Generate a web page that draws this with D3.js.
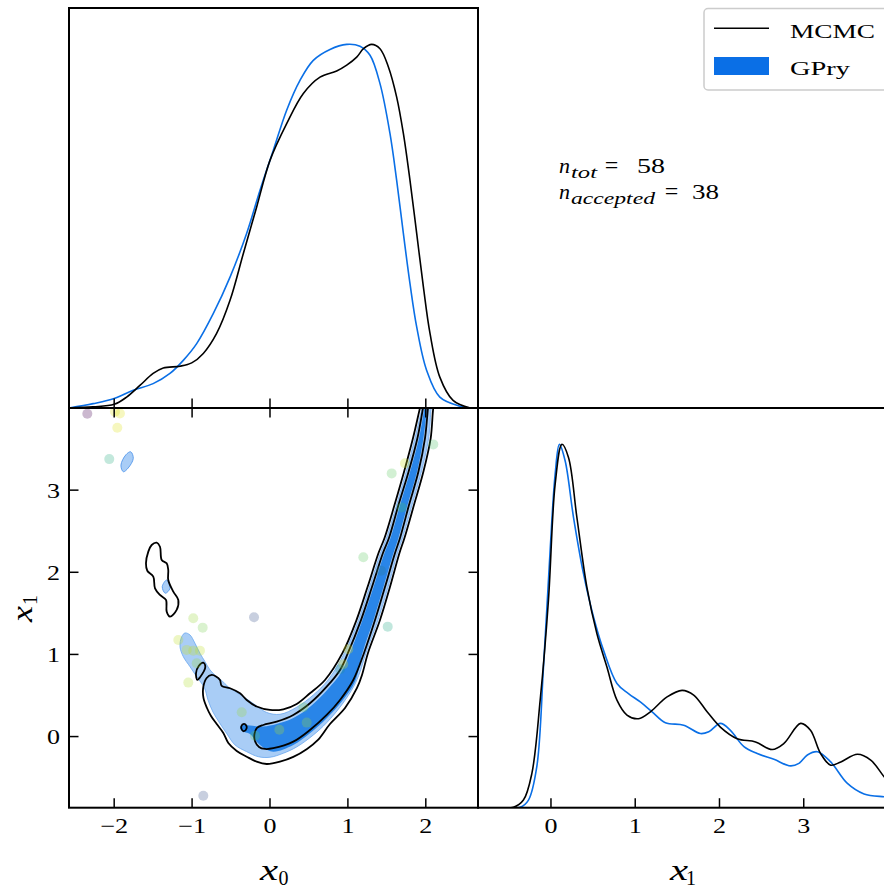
<!DOCTYPE html>
<html><head><meta charset="utf-8">
<script src="https://cdn.jsdelivr.net/npm/d3@7"></script>
<style>html,body{margin:0;padding:0;background:#fff;overflow:hidden}</style>
</head><body><svg id="c" width="884" height="891"></svg>
<script>
// ---------------- DATA ----------------
const x0Ticks = [-2, -1, 0, 1, 2];
const x1Ticks = [0, 1, 2, 3];
const legendLabels = ["MCMC", "GPry"];
const nTot = 58, nAccepted = 38;

// 1D marginal of x0 (normalised to peak 1)
const x0Mcmc = [[-2.58,0],[-2.27,0.003],[-2.0,0.01],[-1.84,0.03],[-1.67,0.062],[-1.5,0.095],[-1.37,0.11],[-1.155,0.115],[-1.005,0.124],[-0.856,0.15],[-0.685,0.205],[-0.513,0.296],[-0.342,0.425],[-0.171,0.553],[0,0.681],[0.214,0.782],[0.428,0.865],[0.642,0.91],[0.856,0.927],[0.985,0.943],[1.113,0.965],[1.2,0.988],[1.305,1.0],[1.412,0.988],[1.52,0.938],[1.626,0.855],[1.712,0.755],[1.797,0.626],[1.883,0.48],[1.969,0.333],[2.054,0.205],[2.18,0.085],[2.35,0.021],[2.57,0.0]];
const x0Gpry = [[-2.58,0],[-2.27,0.012],[-2.0,0.026],[-1.755,0.049],[-1.5,0.067],[-1.284,0.095],[-1.113,0.131],[-0.941,0.177],[-0.727,0.26],[-0.513,0.36],[-0.3,0.48],[-0.128,0.599],[0.043,0.709],[0.214,0.819],[0.385,0.901],[0.556,0.956],[0.77,0.986],[0.985,1.0],[1.155,0.995],[1.284,0.97],[1.412,0.892],[1.54,0.755],[1.626,0.626],[1.712,0.48],[1.797,0.342],[1.883,0.223],[2.01,0.104],[2.18,0.03],[2.44,0.005],[2.57,0]];

// 1D marginal of x1
const x1Mcmc = [[-0.866,0],[-0.447,0.001],[-0.327,0.021],[-0.227,0.094],[-0.128,0.296],[-0.03,0.571],[0.05,0.891],[0.13,1.0],[0.208,0.964],[0.307,0.8],[0.426,0.607],[0.545,0.479],[0.664,0.387],[0.783,0.296],[0.902,0.255],[1.04,0.245],[1.18,0.264],[1.378,0.305],[1.556,0.323],[1.694,0.31],[1.853,0.264],[2.01,0.222],[2.21,0.19],[2.428,0.181],[2.626,0.16],[2.765,0.177],[2.963,0.232],[3.08,0.213],[3.2,0.149],[3.32,0.117],[3.44,0.126],[3.637,0.147],[3.795,0.131],[3.954,0.085],[4.05,0.06]];
const x1Gpry = [[-0.866,0],[-0.366,0.001],[-0.267,0.021],[-0.168,0.113],[-0.089,0.387],[-0.01,0.708],[0.05,0.919],[0.1,1.0],[0.168,0.955],[0.267,0.8],[0.386,0.644],[0.505,0.525],[0.624,0.433],[0.783,0.342],[0.92,0.314],[1.06,0.291],[1.2,0.264],[1.358,0.234],[1.575,0.227],[1.774,0.204],[1.873,0.209],[2.01,0.232],[2.13,0.213],[2.29,0.168],[2.448,0.149],[2.646,0.133],[2.844,0.115],[2.943,0.122],[3.043,0.145],[3.162,0.154],[3.32,0.126],[3.518,0.067],[3.716,0.038],[3.954,0.03],[4.05,0.028]];

// 2D contours [x0, x1]
const mcmcOuter = [[1.951,4.097],[1.925,3.999],[1.836,3.634],[1.720,3.220],[1.598,2.818],[1.470,2.417],[1.393,2.234],[1.252,1.820],[1.110,1.418],[0.931,1.018],[0.706,0.689],[0.513,0.527],[0.343,0.397],[0.171,0.332],[0,0.324],[-0.171,0.366],[-0.299,0.446],[-0.385,0.527],[-0.513,0.588],[-0.620,0.616],[-0.642,0.689],[-0.693,0.732],[-0.748,0.750],[-0.813,0.713],[-0.856,0.604],[-0.854,0.470],[-0.809,0.348],[-0.757,0.251],[-0.684,0.153],[-0.599,0.044],[-0.535,-0.078],[-0.427,-0.175],[-0.299,-0.245],[-0.171,-0.306],[-0.042,-0.334],[0.128,-0.306],[0.299,-0.248],[0.475,-0.151],[0.616,-0.041],[0.770,0.153],[0.963,0.348],[1.117,0.592],[1.181,0.750],[1.258,1.018],[1.412,1.418],[1.540,1.820],[1.662,2.234],[1.726,2.417],[1.848,2.818],[1.968,3.220],[2.063,3.634],[2.096,3.999],[2.118,4.097]];
const mcmcInner = [[1.983,4.097],[1.964,3.999],[1.893,3.634],[1.778,3.220],[1.649,2.818],[1.527,2.417],[1.450,2.234],[1.309,1.820],[1.168,1.418],[1.001,1.018],[0.899,0.811],[0.728,0.607],[0.513,0.405],[0.299,0.263],[0.086,0.181],[-0.086,0.141],[-0.167,0.105],[-0.199,0.032],[-0.193,-0.054],[-0.141,-0.126],[-0.064,-0.151],[0.042,-0.142],[0.299,-0.062],[0.513,0.080],[0.728,0.263],[0.899,0.446],[1.069,0.689],[1.207,1.018],[1.348,1.418],[1.476,1.820],[1.605,2.234],[1.669,2.417],[1.784,2.818],[1.904,3.220],[1.990,3.634],[2.028,3.999],[2.041,4.097]];
const mcmcIsland = [[-1.454,2.360],[-1.412,2.311],[-1.390,2.150],[-1.326,2.109],[-1.306,2.028],[-1.306,1.906],[-1.241,1.764],[-1.177,1.663],[-1.198,1.542],[-1.284,1.460],[-1.326,1.521],[-1.335,1.663],[-1.412,1.724],[-1.476,1.805],[-1.498,1.946],[-1.575,2.019],[-1.592,2.109],[-1.562,2.251],[-1.519,2.332]];
const mcmcLoopA = [[-0.856,0.90],[-0.830,0.85],[-0.900,0.72],[-0.933,0.69],[-0.950,0.77],[-0.915,0.86]];
const mcmcLoopB = [[-0.334,0.155],[-0.305,0.135],[-0.300,0.10],[-0.334,0.065],[-0.362,0.085],[-0.368,0.125]];
const gpryLight = [[1.977,4.097],[1.951,3.999],[1.861,3.634],[1.746,3.220],[1.624,2.818],[1.495,2.417],[1.418,2.234],[1.277,1.820],[1.136,1.418],[0.956,1.018],[0.745,0.689],[0.556,0.506],[0.343,0.357],[0.128,0.271],[-0.042,0.293],[-0.171,0.373],[-0.299,0.458],[-0.427,0.537],[-0.535,0.604],[-0.620,0.683],[-0.684,0.729],[-0.770,0.811],[-0.834,0.912],[-0.899,1.014],[-0.963,1.136],[-1.027,1.237],[-1.091,1.261],[-1.133,1.216],[-1.155,1.094],[-1.113,0.973],[-1.027,0.851],[-0.941,0.729],[-0.841,0.592],[-0.796,0.446],[-0.732,0.299],[-0.655,0.178],[-0.552,0.032],[-0.449,-0.102],[-0.299,-0.184],[-0.150,-0.245],[0,-0.252],[0.171,-0.203],[0.343,-0.126],[0.556,0.019],[0.728,0.169],[0.920,0.385],[1.078,0.616],[1.155,0.786],[1.232,1.018],[1.386,1.418],[1.515,1.820],[1.637,2.234],[1.701,2.417],[1.823,2.818],[1.942,3.220],[2.037,3.634],[2.070,3.999],[2.092,4.097]];
const gpryBlobA = [[-1.788,3.467],[-1.755,3.387],[-1.820,3.270],[-1.883,3.224],[-1.913,3.305],[-1.850,3.430]];
const gpryBlobB = [[-1.326,1.906],[-1.284,1.805],[-1.344,1.745],[-1.383,1.825]];
const gpryDark = [[2.002,4.097],[1.983,3.999],[1.913,3.634],[1.797,3.220],[1.669,2.818],[1.547,2.417],[1.470,2.234],[1.329,1.820],[1.187,1.418],[1.027,1.018],[0.918,0.786],[0.745,0.580],[0.526,0.373],[0.299,0.226],[0.086,0.153],[-0.086,0.123],[-0.257,0.135],[-0.334,0.141],[-0.385,0.117],[-0.359,0.068],[-0.257,0.032],[-0.180,-0.054],[-0.086,-0.133],[0.042,-0.184],[0.299,-0.102],[0.513,0.040],[0.728,0.223],[0.920,0.425],[1.091,0.668],[1.187,1.018],[1.329,1.418],[1.457,1.820],[1.585,2.234],[1.649,2.417],[1.765,2.818],[1.887,3.220],[1.970,3.634],[2.015,3.999],[2.028,4.097]];

// GP training points [x0, x1, colour value]
const trainPts = [[-2.345,3.93,0.0],[-1.99,3.954,0.95],[-1.926,3.934,0.95],[-1.96,3.76,0.95],[-2.063,3.378,0.62],[-0.985,1.44,0.85],[-0.864,1.326,0.8],[-0.205,1.452,0.25],[-1.177,1.176,0.9],[-1.069,1.055,0.92],[-0.985,1.046,0.9],[-0.899,1.046,0.9],[-0.941,0.893,0.85],[-1.049,0.657,0.88],[-0.363,0.297,0.85],[-0.193,0.009,0.75],[0.12,0.082,0.88],[0.471,0.17,0.85],[0.428,0.358,0.8],[0.94,0.88,0.95],[0.90,0.82,0.5],[1.005,1.063,0.95],[1.425,2.02,0.4],[1.198,2.183,0.75],[1.511,1.338,0.6],[1.562,3.204,0.75],[1.733,3.326,0.92],[2.096,3.557,0.72],[1.69,2.79,0.7],[-0.856,-0.721,0.25]];

// ---------------- LAYOUT ----------------
const svg = d3.select('#c');
const L = 69, M = 478, R = 888, T = 8, MID = 408, B = 807.7;
const BLUE = '#0a6fe6', LIGHT = '#a9cdf6', DARK = '#2985e8';
const FONT = "'Liberation Serif', 'DejaVu Serif', serif";

const sx0 = d3.scaleLinear().domain([-2.58, 2.67]).range([L, M]);
const sx1h = d3.scaleLinear().domain([-0.866, 4.0]).range([M, R]);
const sx1v = d3.scaleLinear().domain([-0.866, 4.0]).range([B, MID]);
const sdTop = d3.scaleLinear().domain([0, 1.1]).range([MID, T]);
const sdRight = d3.scaleLinear().domain([0, 1.1]).range([B, MID]);

const defs = svg.append('defs');
function clip(id, x, y, w, h) {
  defs.append('clipPath').attr('id', id).append('rect').attr('x', x).attr('y', y).attr('width', w).attr('height', h);
}
clip('cTop', L, T, M - L, MID - T);
clip('c2d', L, MID, M - L, B - MID);
clip('cRight', M, MID, R - M, B - MID);

// ---- top panel: x0 marginal
const gTop = svg.append('g').attr('clip-path', 'url(#cTop)');
const lineTop = d3.line().x(d => sx0(d[0])).y(d => sdTop(d[1])).curve(d3.curveCatmullRom);
gTop.append('path').attr('d', lineTop(x0Gpry)).attr('fill', 'none').attr('stroke', BLUE).attr('stroke-width', 1.6);
gTop.append('path').attr('d', lineTop(x0Mcmc)).attr('fill', 'none').attr('stroke', '#000').attr('stroke-width', 1.6);

// ---- right panel: x1 marginal
const gRight = svg.append('g').attr('clip-path', 'url(#cRight)');
const lineRight = d3.line().x(d => sx1h(d[0])).y(d => sdRight(d[1])).curve(d3.curveCatmullRom);
gRight.append('path').attr('d', lineRight(x1Gpry)).attr('fill', 'none').attr('stroke', BLUE).attr('stroke-width', 1.6);
gRight.append('path').attr('d', lineRight(x1Mcmc)).attr('fill', 'none').attr('stroke', '#000').attr('stroke-width', 1.6);

// ---- 2D panel
const g2 = svg.append('g').attr('clip-path', 'url(#c2d)');
const closed = d3.line().x(d => sx0(d[0])).y(d => sx1v(d[1])).curve(d3.curveCatmullRomClosed);
g2.append('path').attr('d', closed(gpryLight)).attr('fill', LIGHT).attr('stroke', '#6aa7ef').attr('stroke-width', 0.8);
[gpryBlobA, gpryBlobB].forEach(b => g2.append('path').attr('d', closed(b)).attr('fill', LIGHT).attr('stroke', '#5f9fee').attr('stroke-width', 1));
g2.append('path').attr('d', closed(gpryDark)).attr('fill', DARK);
[mcmcOuter, mcmcInner, mcmcIsland, mcmcLoopA, mcmcLoopB].forEach(c =>
  g2.append('path').attr('d', closed(c)).attr('fill', 'none').attr('stroke', '#000').attr('stroke-width', 1.8).attr('stroke-linejoin', 'round'));
svg.append('g').selectAll('circle').data(trainPts).join('circle')
  .attr('cx', d => sx0(d[0])).attr('cy', d => sx1v(d[1])).attr('r', 5)
  .attr('fill', d => d3.interpolateViridis(d[2])).attr('fill-opacity', 0.28);

// ---------------- AXES / SPINES ----------------
const TL = 9.5;
const ax = svg.append('g').attr('stroke', '#000').attr('stroke-width', 1.5);
x0Ticks.forEach(t => {
  const x = sx0(t);
  ax.append('line').attr('x1', x).attr('x2', x).attr('y1', MID).attr('y2', MID - TL);
  ax.append('line').attr('x1', x).attr('x2', x).attr('y1', MID).attr('y2', MID + TL);
  ax.append('line').attr('x1', x).attr('x2', x).attr('y1', B).attr('y2', B - TL);
});
x1Ticks.forEach(t => {
  const y = sx1v(t);
  ax.append('line').attr('x1', L).attr('x2', L + TL).attr('y1', y).attr('y2', y);
  ax.append('line').attr('x1', M).attr('x2', M - TL).attr('y1', y).attr('y2', y);
  const x = sx1h(t);
  ax.append('line').attr('x1', x).attr('x2', x).attr('y1', B).attr('y2', B - TL);
});
const sp = svg.append('g').attr('stroke', '#000').attr('stroke-width', 2).attr('fill', 'none');
sp.append('rect').attr('x', L).attr('y', T).attr('width', M - L).attr('height', MID - T);
sp.append('rect').attr('x', L).attr('y', MID).attr('width', M - L).attr('height', B - MID);
sp.append('rect').attr('x', M).attr('y', MID).attr('width', R - M).attr('height', B - MID);

function txt(x, y, s, o) {
  const t = svg.append('text').attr('x', x).attr('y', y).text(s)
    .attr('font-family', FONT).attr('font-size', o.size).attr('fill', '#000')
    .attr('text-anchor', o.anchor || 'start');
  if (o.italic) t.attr('font-style', 'italic');
  if (o.len) t.attr('textLength', o.len).attr('lengthAdjust', 'spacingAndGlyphs');
  return t;
}
const fmt = v => (v < 0 ? '\u2212' : '') + Math.abs(v);
x0Ticks.forEach(t => txt(sx0(t), 833, fmt(t), {size: 21, anchor: 'middle', len: t < 0 ? 28 : 13}));
x1Ticks.forEach(t => txt(60, sx1v(t) + 7.5, fmt(t), {size: 21, anchor: 'end', len: 13}));
x1Ticks.forEach(t => txt(sx1h(t), 833, fmt(t), {size: 21, anchor: 'middle', len: 13}));

// axis labels
txt(260, 880, 'x', {size: 29, italic: true, len: 18});
txt(278.5, 885, '0', {size: 20, len: 10});
txt(670, 880, 'x', {size: 29, italic: true, len: 18});
txt(686, 885, '1', {size: 20, len: 10});
const yl = svg.append('g').attr('transform', 'translate(32,622) rotate(-90)');
yl.append('text').attr('x', 0).attr('y', 0).text('x').attr('font-family', FONT).attr('font-style', 'italic')
  .attr('font-size', 29).attr('textLength', 16).attr('lengthAdjust', 'spacingAndGlyphs');
yl.append('text').attr('x', 17).attr('y', 5).text('1').attr('font-family', FONT)
  .attr('font-size', 20).attr('textLength', 10).attr('lengthAdjust', 'spacingAndGlyphs');

// annotation
txt(559, 173, 'n', {size: 22, italic: true, len: 11});
txt(571, 178, 'tot', {size: 17, italic: true, len: 26});
txt(611.5, 173, '=', {size: 24, anchor: 'middle'});
txt(637, 173, String(nTot), {size: 22, len: 28});
txt(559, 199, 'n', {size: 22, italic: true, len: 11});
txt(571, 204, 'accepted', {size: 17, italic: true, len: 84});
txt(671.5, 199, '=', {size: 24, anchor: 'middle'});
txt(692, 199, String(nAccepted), {size: 22, len: 27});

// legend
svg.append('rect').attr('x', 704).attr('y', 8.5).attr('width', 200).attr('height', 81.5).attr('rx', 4)
  .attr('fill', '#fff').attr('fill-opacity', 0.85).attr('stroke', '#cccccc').attr('stroke-width', 1.5);
svg.append('line').attr('x1', 714).attr('x2', 769).attr('y1', 28.3).attr('y2', 28.3).attr('stroke', '#000').attr('stroke-width', 1.6);
svg.append('rect').attr('x', 714).attr('y', 57).attr('width', 55).attr('height', 18).attr('fill', BLUE);
txt(790, 37.5, legendLabels[0], {size: 19, len: 85});
txt(790, 75, legendLabels[1], {size: 19, len: 60});
</script></body></html>
